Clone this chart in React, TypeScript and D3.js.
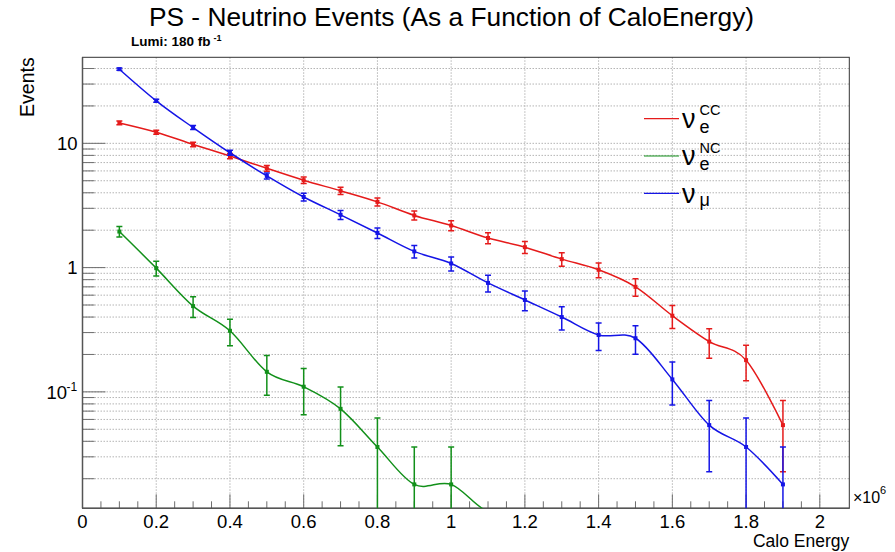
import React from "react";
import * as d3 from "d3";

// ---- data (x in units of 10^6) ----
const energies = [0.1, 0.2, 0.3, 0.4, 0.5, 0.6, 0.7, 0.8, 0.9, 1.0, 1.1, 1.2, 1.3, 1.4, 1.5, 1.6, 1.7, 1.8, 1.9];
const nueCC = [14.6, 12.3, 9.8, 7.9, 6.3, 5.05, 4.15, 3.38, 2.63, 2.18, 1.73, 1.46, 1.17, 0.96, 0.70, 0.41, 0.254, 0.18, 0.054];
const nueCCErr = [0.513, 0.471, 0.42, 0.377, 0.337, 0.301, 0.273, 0.247, 0.218, 0.198, 0.176, 0.162, 0.145, 0.131, 0.112, 0.086, 0.0676, 0.057, 0.0312];
const nueNC = [1.95, 0.99, 0.49, 0.31, 0.145, 0.11, 0.073, 0.036, 0.018, 0.018, 0, 0, 0, 0, 0, 0, 0, 0, 0];
const nueNCErr = [0.187, 0.1335, 0.0939, 0.0747, 0.0511, 0.0445, 0.0362, 0.0255, 0.018, 0.018, 0, 0, 0, 0, 0, 0, 0, 0, 0];
const numu = [39.5, 22.0, 13.4, 8.4, 5.47, 3.7, 2.66, 1.9, 1.35, 1.08, 0.753, 0.549, 0.40, 0.287, 0.27, 0.126, 0.054, 0.036, 0.018];
const numuErr = [0.843, 0.629, 0.491, 0.389, 0.314, 0.258, 0.219, 0.185, 0.156, 0.139, 0.116, 0.0994, 0.0849, 0.0719, 0.0697, 0.0476, 0.0312, 0.0255, 0.018];
const xTickLabels = ["0", "0.2", "0.4", "0.6", "0.8", "1", "1.2", "1.4", "1.6", "1.8", "2"];

const W = 895, H = 552;
const L = 82.5, R = 849.3, T = 57.3, B = 508.3;
const FONT = "'Liberation Sans', Arial, Helvetica, sans-serif";

const x = d3.scaleLinear().domain([0, 2.08]).range([L, R]);
const y = d3.scaleLog().domain([0.01156, 49.25]).range([B, T]);

const series = [
  { name: "CC", sub: "e", vals: nueCC, errs: nueCCErr, color: "#e51b1b" },
  { name: "NC", sub: "e", vals: nueNC, errs: nueNCErr, color: "#12901a" },
  { name: "", sub: "μ", vals: numu, errs: numuErr, color: "#1515e6" },
];

const yPix = (v: number) => (v > 0 ? y(v) : B + 3.4);

export default function App() {
  const yTicks = y.ticks();
  const xMinor = d3.range(0, 41).map((i) => i * 0.05).filter((v) => v <= 2.08);
  const xMajor = d3.range(0, 11).map((i) => i * 0.2);
  const line = d3
    .line<number>()
    .x((_, i) => x(energies[i]))
    .y((v) => yPix(v))
    .curve(d3.curveCardinal.tension(0));
  const isMajorY = (t: number) => Math.abs(Math.log10(t) - Math.round(Math.log10(t))) < 1e-6;

  const legendY = [118.7, 156, 193.3];

  return (
    <svg width={W} height={H} style={{ position: "absolute", left: 0, top: 0, background: "#fff" }} fontFamily={FONT}>
      <defs>
        <clipPath id="frame">
          <rect x={L} y={T} width={R - L} height={B - T} />
        </clipPath>
      </defs>
      <rect x={0} y={0} width={W} height={H} fill="#fff" />
      {/* grid */}
      <g stroke="#b4b4b4" strokeWidth={1} strokeDasharray="1.5,1.5">
        {yTicks.map((t, i) => (
          <line key={"gy" + i} x1={L} x2={R} y1={y(t)} y2={y(t)} />
        ))}
        {xMajor.slice(1).map((t, i) => (
          <line key={"gx" + i} x1={x(t)} x2={x(t)} y1={T} y2={B} />
        ))}
      </g>
      {/* ticks */}
      <g stroke="#6e6e6e" strokeWidth={1}>
        {yTicks.map((t, i) => (
          <line key={"ty" + i} x1={L} x2={L + (isMajorY(t) ? 23 : 12)} y1={y(t)} y2={y(t)} />
        ))}
        {xMinor.map((t, i) => {
          const major = Math.abs(t / 0.2 - Math.round(t / 0.2)) < 1e-6;
          return <line key={"tx" + i} x1={x(t)} x2={x(t)} y1={B} y2={B - (major ? 14 : 7)} />;
        })}
      </g>
      {/* frame */}
      <rect x={L} y={T} width={R - L} height={B - T} fill="none" stroke="#333" strokeWidth={1} />
      <line x1={L} x2={L} y1={T} y2={B} stroke="#555" strokeWidth={1.5} />
      <line x1={L} x2={R} y1={B} y2={B} stroke="#555" strokeWidth={1.5} />
      {/* series */}
      <g clipPath="url(#frame)">
        {series.map((s, si) => (
          <g key={"s" + si} stroke={s.color} fill={s.color}>
            <path d={line(s.vals) || ""} fill="none" strokeWidth={1.5} />
            {s.vals.map((v, i) => {
              if (v <= 0) return null;
              const cx = x(energies[i]);
              const lo = v - s.errs[i];
              const yTop = y(v + s.errs[i]);
              const yBot = lo > 0 ? y(lo) : B + 5;
              return (
                <g key={"p" + i}>
                  <line x1={cx} x2={cx} y1={yTop} y2={yBot} strokeWidth={1.5} />
                  <line x1={cx - 3} x2={cx + 3} y1={yTop} y2={yTop} strokeWidth={1.5} />
                  {lo > 0 && <line x1={cx - 3} x2={cx + 3} y1={yBot} y2={yBot} strokeWidth={1.5} />}
                  <rect x={cx - 2} y={y(v) - 2} width={4} height={4} stroke="none" />
                </g>
              );
            })}
          </g>
        ))}
      </g>
      {/* x tick labels */}
      <g fontSize={18.5} textAnchor="middle" fill="#000">
        {xMajor.map((t, i) => (
          <text key={"xl" + i} x={x(t)} y={528.3}>
            {xTickLabels[i]}
          </text>
        ))}
      </g>
      <text x={853} y={502.5} fontSize={16}>
        ×10
      </text>
      <text x={880} y={494} fontSize={11}>
        6
      </text>
      <text x={R} y={546.5} fontSize={17.5} textAnchor="end">
        Calo Energy
      </text>
      {/* y tick labels */}
      <g fontSize={18.5} textAnchor="end" fill="#000">
        <text x={77.5} y={y(10) + 6.7}>10</text>
        <text x={77.5} y={y(1) + 6.7}>1</text>
        <text x={67} y={y(0.1) + 6.7}>10</text>
        <text x={66.5} y={y(0.1) - 1} fontSize={12} textAnchor="start">-1</text>
      </g>
      <text transform={`translate(34,${T}) rotate(-90)`} fontSize={19.5} textAnchor="end">
        Events
      </text>
      {/* title */}
      <text x={451.5} y={26} fontSize={26.3} textAnchor="middle">
        PS - Neutrino Events (As a Function of CaloEnergy)
      </text>
      <text x={131} y={46} fontSize={13.5} fontWeight="bold">
        Lumi: 180 fb
        <tspan dx={3} dy={-5} fontSize={9}>
          -1
        </tspan>
      </text>
      {/* legend */}
      {series.map((s, i) => {
        const ly = legendY[i];
        return (
          <g key={"lg" + i}>
            <line x1={644} x2={679} y1={ly} y2={ly} stroke={s.color} strokeWidth={1.2} />
            <text x={682} y={ly + 9.3} fontSize={27}>
              ν
            </text>
            <text x={699.5} y={ly + (s.sub === "μ" ? 12.5 : 14.2)} fontSize={18}>
              {s.sub}
            </text>
            {s.name && (
              <text x={699.5} y={ly - 3.5} fontSize={14.5}>
                {s.name}
              </text>
            )}
          </g>
        );
      })}
    </svg>
  );
}
